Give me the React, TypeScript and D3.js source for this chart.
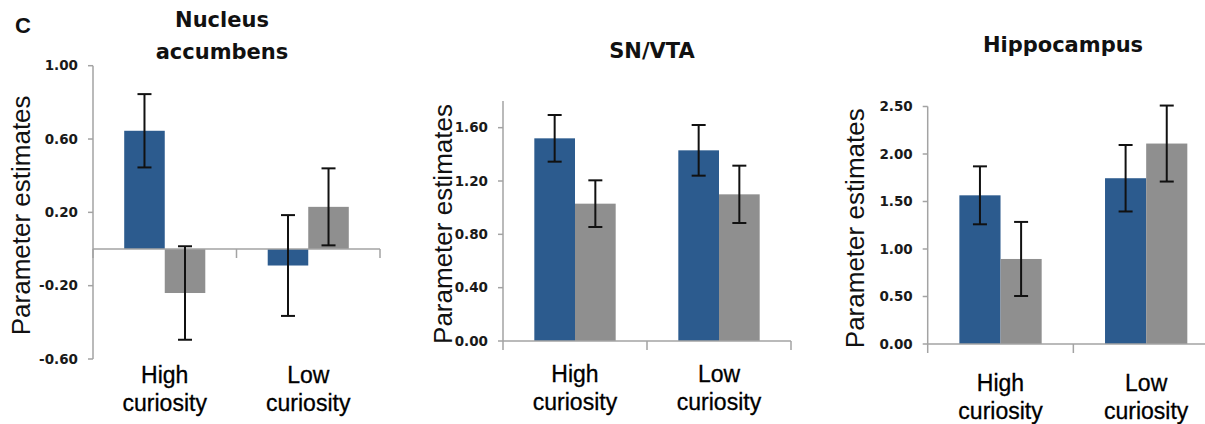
import React from 'react'
import * as d3 from 'd3'

// bar values (blue = first series, gray = second series)
const categories = ['High curiosity', 'Low curiosity']
const seriesKeys = ['blue', 'gray']

const naccBlue = [0.645, -0.09]
const naccBlueErr = [0.2, 0.275]
const naccGray = [-0.24, 0.23]
const naccGrayErr = [0.255, 0.21]
const naccTicks = [-0.6, -0.2, 0.2, 0.6, 1.0]

const snBlue = [1.52, 1.43]
const snBlueErr = [0.175, 0.19]
const snGray = [1.03, 1.1]
const snGrayErr = [0.175, 0.215]
const snTicks = [0, 0.4, 0.8, 1.2, 1.6]

const hipBlue = [1.565, 1.745]
const hipBlueErr = [0.305, 0.35]
const hipGray = [0.895, 2.11]
const hipGrayErr = [0.39, 0.4]
const hipTicks = [0, 0.5, 1.0, 1.5, 2.0, 2.5]

const colors: Record<string, string> = { blue: '#2c5b8e', gray: '#8f8f8f' }
const axisColor = '#a3a3a3'

interface PanelProps {
  title: string[];
  titleX: number;
  titleY: number;
  blue: number[];
  blueErr: number[];
  gray: number[];
  grayErr: number[];
  ticks: number[];
  domain: [number, number];
  x0: number;
  x1: number;
  yTop: number;
  yBottom: number;
  labelX: number;
  catY: number;
}

function Panel(p: PanelProps) {
  const y = d3.scaleLinear().domain(p.domain).range([p.yBottom, p.yTop])
  const x = d3.scaleBand<string>()
    .domain(categories)
    .range([p.x0, p.x1])
    .paddingInner(0.435)
    .paddingOuter(0.2175)
  const xs = d3.scaleBand<string>().domain(seriesKeys).range([0, x.bandwidth()])
  const step = x.step()
  const y0 = y(0)
  // excel style: plain hyphen for negatives
  const fmt = (v: number) => d3.format('.2f')(v).replace('\u2212', '-')

  const rows = categories.map((c, i) => ({
    cat: c,
    bars: [
      { key: 'blue', v: p.blue[i], e: p.blueErr[i] },
      { key: 'gray', v: p.gray[i], e: p.grayErr[i] }
    ]
  }))

  const boundaries = d3.range(categories.length + 1).map(i => p.x0 + i * step)

  return (
    <g>
      {p.title.map((t, i) => (
        <text key={t} x={p.titleX} y={p.titleY + i * 32} textAnchor="middle"
          fontFamily="DejaVu Sans" fontWeight="bold" fontSize={21} fill="#111">{t}</text>
      ))}

      {/* bars */}
      {rows.map(r => r.bars.map(b => (
        <rect key={r.cat + b.key}
          x={(x(r.cat) ?? 0) + (xs(b.key) ?? 0)}
          y={Math.min(y(b.v), y0)}
          width={xs.bandwidth()}
          height={Math.abs(y(b.v) - y0)}
          fill={colors[b.key]} />
      )))}

      {/* axes */}
      <line x1={p.x0} x2={p.x0} y1={y(p.domain[1])} y2={y(p.domain[0])} stroke={axisColor} strokeWidth={1.5} />
      <line x1={p.x0} x2={p.x1} y1={y0} y2={y0} stroke={axisColor} strokeWidth={1.5} />
      {boundaries.map(bx => (
        <line key={bx} x1={bx} x2={bx} y1={y0} y2={y0 + 9} stroke={axisColor} strokeWidth={1.5} />
      ))}
      {p.ticks.map(t => (
        <g key={t}>
          <line x1={p.x0 - 5} x2={p.x0} y1={y(t)} y2={y(t)} stroke={axisColor} strokeWidth={1.5} />
          <text x={p.x0 - 15} y={y(t)} dy="0.35em" textAnchor="end"
            fontFamily="DejaVu Sans" fontWeight="bold" fontSize={13.5} fill="#1a1a1a">{fmt(t)}</text>
        </g>
      ))}

      {/* error bars */}
      {rows.map(r => r.bars.map(b => {
        const cx = (x(r.cat) ?? 0) + (xs(b.key) ?? 0) + xs.bandwidth() / 2
        const hi = y(b.v + b.e)
        const lo = y(b.v - b.e)
        return (
          <g key={'e' + r.cat + b.key} stroke="#111" strokeWidth={2}>
            <line x1={cx} x2={cx} y1={hi} y2={lo} />
            <line x1={cx - 7} x2={cx + 7} y1={hi} y2={hi} />
            <line x1={cx - 7} x2={cx + 7} y1={lo} y2={lo} />
          </g>
        )
      }))}

      {/* y label */}
      <text transform={`translate(${p.labelX},${(p.yTop + p.yBottom) / 2 + 3}) rotate(-90)`}
        textAnchor="middle" dy="0.35em" fontFamily="Liberation Sans" fontSize={26} fill="#111">
        Parameter estimates
      </text>

      {/* category labels */}
      {categories.map(c => {
        const cx = (x(c) ?? 0) + x.bandwidth() / 2
        const parts = c.split(' ')
        return parts.map((w, i) => (
          <text key={c + w} x={cx} y={p.catY + i * 28} textAnchor="middle"
            fontFamily="Liberation Sans" fontSize={23} fill="#000" stroke="#000" strokeWidth={0.3}>{w}</text>
        ))
      })}
    </g>
  )
}

export default function App() {
  return (
    <svg width={1205} height={424} style={{ position: 'absolute', left: 0, top: 0, background: '#fff' }}>
      <text x={15} y={33} fontFamily="Liberation Sans" fontWeight="bold" fontSize={22} fill="#111">C</text>
      <Panel title={['Nucleus', 'accumbens']} titleX={222} titleY={27}
        blue={naccBlue} blueErr={naccBlueErr} gray={naccGray} grayErr={naccGrayErr}
        ticks={naccTicks} domain={[-0.6, 1.0]}
        x0={93} x1={380} yTop={65.7} yBottom={359} labelX={21} catY={383} />
      <Panel title={['SN/VTA']} titleX={652} titleY={58}
        blue={snBlue} blueErr={snBlueErr} gray={snGray} grayErr={snGrayErr}
        ticks={snTicks} domain={[0, 1.8]}
        x0={503} x1={791} yTop={101} yBottom={341} labelX={443} catY={382} />
      <Panel title={['Hippocampus']} titleX={1063} titleY={52}
        blue={hipBlue} blueErr={hipBlueErr} gray={hipGray} grayErr={hipGrayErr}
        ticks={hipTicks} domain={[0, 2.5]}
        x0={927.7} x1={1219} yTop={106.5} yBottom={344} labelX={855} catY={391} />
    </svg>
  )
}
